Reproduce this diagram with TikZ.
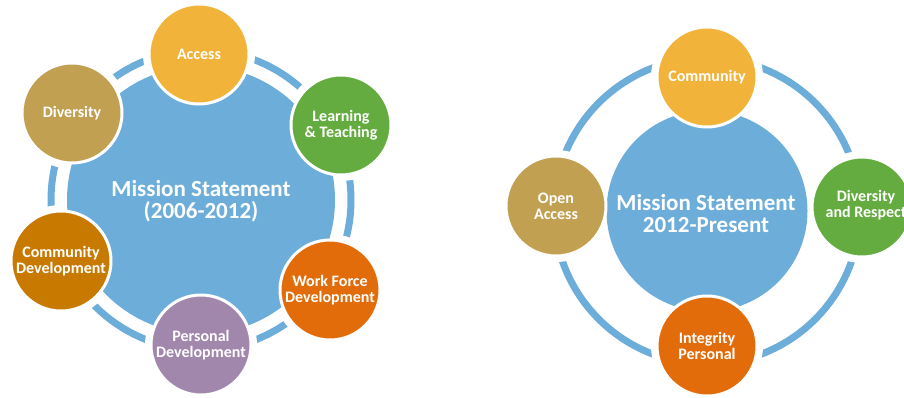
\documentclass[tikz,border=0pt]{standalone}
\usepackage{fontspec}
\setmainfont{Carlito}
\definecolor{mblue}{HTML}{6DADDA}
\definecolor{myellow}{HTML}{F1B33A}
\definecolor{mgreen}{HTML}{64AC3F}
\definecolor{morange}{HTML}{E36C0A}
\definecolor{mpurple}{HTML}{A287AD}
\definecolor{mtan}{HTML}{C1A052}
\definecolor{mbrown}{HTML}{C87A00}
\begin{document}
\begin{tikzpicture}[x=1pt,y=-1pt,
  ring/.style={draw=mblue, line width=7pt},
  halo/.style={fill=white},
  bigc/.style={circle, fill=mblue, inner sep=0pt, text=white, align=center,
    font=\bfseries\fontsize{23}{22}\selectfont},
  smallc/.style={circle, draw=white, line width=3pt, minimum size=100pt, inner sep=0pt,
    text=white, align=center, font=\bfseries\fontsize{16}{16}\selectfont}]
\useasboundingbox (0,0) rectangle (904,398);
% ---------- left diagram ----------
\coordinate (c1) at (201,200);
\coordinate (pA) at (199,54);
\coordinate (pL) at (341,125);
\coordinate (pW) at (330,290);
\coordinate (pP) at (201,345);
\coordinate (pC) at (61,261);
\coordinate (pD) at (72,113);
\draw[ring] (c1) circle[radius=150];
\foreach \p in {pA,pL,pW,pP,pC,pD} \fill[halo] (\p) circle[radius=56];
\node[bigc, minimum size=268pt] (m1) at (c1) {};
\node[text=white, align=center, font=\bfseries\fontsize{23}{22}\selectfont] (t1) at (201,201.5) {Mission Statement\\(2006-2012)};
\node[smallc, fill=myellow] (access) at (pA) {Access};
\node[smallc, fill=mgreen] (learn) at (pL) {Learning\\\& Teaching};
\node[smallc, fill=morange] (work) at (pW) {Work Force\\Development};
\node[smallc, fill=mpurple] (pers) at (pP) {Personal\\Development};
\node[smallc, fill=mbrown] (commdev) at (pC) {Community\\Development};
\node[smallc, fill=mtan] (div) at (pD) {Diversity};
% ---------- right diagram ----------
\coordinate (c2) at (707,211);
\coordinate (qC) at (707,77);
\coordinate (qO) at (556,206);
\coordinate (qD) at (862,207);
\coordinate (qI) at (707,346);
\draw[ring] (c2) circle[radius=153];
\foreach \p in {qC,qO,qD,qI} \fill[halo] (\p) circle[radius=56];
\node[bigc, minimum size=201pt] (m2) at (c2) {};
\node[text=white, align=center, font=\bfseries\fontsize{23}{22}\selectfont] (t2) at (706,214) {Mission Statement\\2012-Present};
\node[smallc, fill=myellow] (comm) at (qC) {Community};
\node[smallc, fill=mtan] (open) at (qO) {Open\\Access};
\node[smallc, fill=mgreen] (divr) at (qD) {};
\node[text=white, align=center, font=\bfseries\fontsize{16}{16}\selectfont] (divrt) at (866,205) {Diversity\\and Respect};
\node[smallc, fill=morange] (integ) at (qI) {Integrity\\Personal};
\end{tikzpicture}
\end{document}
